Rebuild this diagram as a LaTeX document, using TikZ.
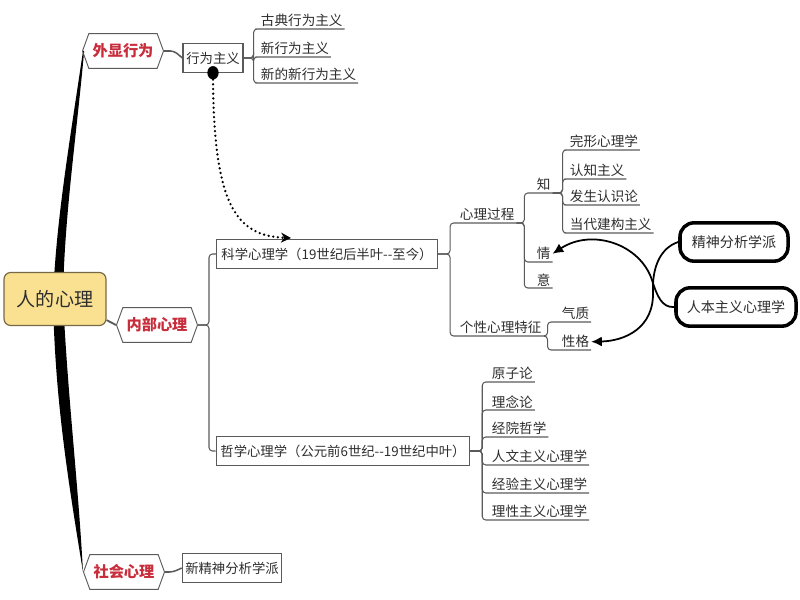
\documentclass[tikz,border=0pt]{standalone}
\usepackage{fontspec}
\setmainfont{Noto Sans CJK SC}
\usetikzlibrary{shapes.misc,shapes.symbols,shapes.geometric,arrows.meta,positioning}
\definecolor{rootyellow}{RGB}{250,225,145}
\definecolor{rootedge}{RGB}{120,105,70}
\definecolor{hexred}{RGB}{200,45,60}
\definecolor{inkgray}{RGB}{45,45,45}
\definecolor{edgegray}{RGB}{90,90,90}

\tikzset{
  rootbox/.style={draw=rootedge, fill=rootyellow, line width=1pt, rounded corners=0.2cm,
    minimum width=3.06cm, minimum height=1.59cm, text=inkgray, font=\fontsize{16.3}{19}\selectfont},
  hexbox/.style={signal, signal to=west and east, signal pointer angle=140, draw=edgegray, line width=0.8pt,
    minimum width=2.43cm, minimum height=1.04cm, inner sep=1pt, text=hexred, font=\fontsize{13}{15}\selectfont\bfseries},
  topicbox/.style={draw=edgegray, line width=1pt, minimum height=0.85cm, inner xsep=2.5pt, text=inkgray, font=\fontsize{11.4}{13}\selectfont},
  leaf/.style={anchor=south west, inner xsep=1.5pt, inner ysep=1.5pt, text=inkgray, font=\fontsize{11.6}{13}\selectfont},
  link/.style={draw=edgegray, line width=0.9pt, rounded corners=3pt},
  school/.style={draw=black, line width=3pt, rounded corners=0.42cm, minimum height=1.15cm, text=inkgray, font=\fontsize{12}{14}\selectfont},
  infl/.style={draw=black, line width=1.5pt, -{Latex[length=3.2mm,width=3mm]}},
  pin/.style={ellipse, fill=black, inner sep=0pt, minimum width=0.34cm, minimum height=0.4cm},
  dotlink/.style={line width=2.2pt, line cap=round, dash pattern=on 0pt off 4pt, -{Stealth[length=3mm,width=3mm]}}
}

\begin{document}
\begin{tikzpicture}[x=0.03cm,y=-0.03cm]
\useasboundingbox (0,0) rectangle (800,600);

% trunk behind the root
\coordinate (ttop) at (83,51);
\coordinate (tbot) at (83,572);
\fill[black] (ttop) .. controls (70,140) and (56,220) .. (53,299) .. controls (55,400) and (68,480) .. (tbot)
  .. controls (78,480) and (68,400) .. (63,299) .. controls (64,220) and (76,140) .. ([xshift=1pt]ttop) -- cycle;

\node[rootbox] (root) at (55,299) {人的心理};

\node[hexbox] (outer) at (123,51) {外显行为};
\node[hexbox] (inner) at (157,325) {内部心理};
\node[hexbox] (social) at (124,572) {社会心理};

\node[topicbox, minimum width=1.8cm] (behav) at (213,58) {行为主义};
\node[topicbox, minimum width=6.63cm] (sci) at (327,254) {科学心理学（19世纪后半叶{-}{-}至今）};
\node[topicbox, minimum width=7.6cm] (phil) at (343,451) {哲学心理学（公元前6世纪{-}{-}19世纪中叶）};
\node[topicbox, minimum width=2.97cm] (neo) at (232,568) {新精神分析学派};

\draw[link, line width=1.6pt] ([yshift=0.18cm]root.south east) -- (inner.west);
\draw[link, line width=1.3pt] (outer.east) -- ++(10,0) -- (behav.west);
\draw[link, line width=1.3pt] (social.east) -- ++(8,0) -- (neo.west);
\draw[link] (inner.east) -- ++(11,0) |- (sci.west);
\draw[link] (inner.east) -- ++(11,0) |- (phil.west);

% behaviourism
\node[leaf] (b1) at (259,29) {古典行为主义};
\node[leaf] (b2) at (259,57) {新行为主义};
\node[leaf] (b3) at (259,83) {新的新行为主义};
\foreach \c in {b1,b2,b3}
  \draw[link] (behav.east) -- ++(10,0) |- (\c.south west) -- (\c.south east);

% scientific psychology
\node[leaf] (proc) at (458,223) {心理过程};
\node[leaf] (pers) at (458,336) {个性心理特征};
\foreach \c in {proc,pers}
  \draw[link] (sci.east) -- ++(12,0) |- (\c.south west) -- (\c.south east);

\node[leaf] (zhi) at (535,193) {知};
\node[leaf] (qing) at (535,262) {情};
\node[leaf] (yi) at (535,288) {意};
\foreach \c in {zhi,qing,yi}
  \draw[link] (proc.south east) -- ++(8,0) |- (\c.south west) -- (\c.south east);

\node[leaf] (z1) at (568,150) {完形心理学};
\node[leaf] (z2) at (568,179) {认知主义};
\node[leaf] (z3) at (568,205) {发生认识论};
\node[leaf] (z4) at (568,233) {当代建构主义};
\foreach \c in {z1,z2,z3,z4}
  \draw[link] (zhi.south east) -- ++(10,0) |- (\c.south west) -- (\c.south east);

\node[leaf] (qz) at (560,322) {气质};
\node[leaf] (xg) at (560,350) {性格};
\foreach \c in {qz,xg}
  \draw[link] (pers.south east) -- ++(4,0) |- (\c.south west) -- (\c.south east);

% philosophical psychology
\node[leaf] (p1) at (490,382) {原子论};
\node[leaf] (p2) at (490,410) {理念论};
\node[leaf] (p3) at (490,437) {经院哲学};
\node[leaf] (p4) at (490,465) {人文主义心理学};
\node[leaf] (p5) at (490,493) {经验主义心理学};
\node[leaf] (p6) at (490,520) {理性主义心理学};
\foreach \c in {p1,p2,p3,p4,p5,p6}
  \draw[link] (phil.east) -- ++(12,0) |- (\c.south west) -- (\c.south east);

% schools pointing in
\node[school, minimum width=3.24cm] (psy) at (734,242) {精神分析学派};
\node[school, minimum width=3.6cm] (hum) at (736,307) {人本主义心理学};
\draw[infl] (psy.west) .. controls (660,248) and (652,268) .. (653,292) .. controls (654,328) and (625,341) .. (xg.east);
\draw[infl] (hum.west) .. controls (662,308) and (657,296) .. (652,280) .. controls (640,244) and (592,228) .. (qing.east);

% behaviourism feeds into scientific psychology
\node[pin] (dot) at (behav.south) {};
\coordinate (sciin) at (291,238);
\draw[dotlink] (dot.south) .. controls (214,205) and (236,236) .. (sciin);

\end{tikzpicture}
\end{document}
